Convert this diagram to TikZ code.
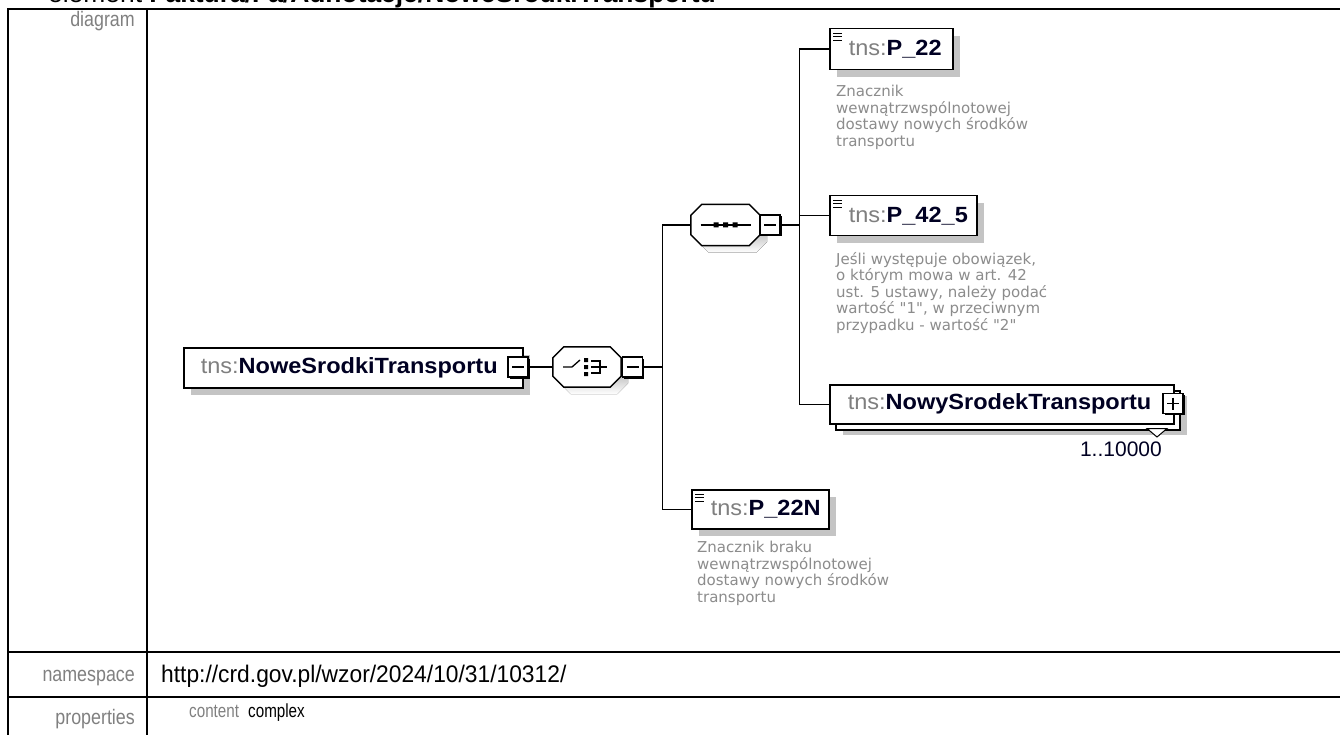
\documentclass[tikz,border=0pt]{standalone}
\usepackage{fontspec}
\setmainfont{Liberation Sans}
\newfontfamily\tabfont[FakeStretch=0.85]{Liberation Sans}
\newfontfamily\propfont[FakeStretch=0.8]{Liberation Sans}
\newfontfamily\urlfont[FakeStretch=0.95]{Liberation Sans}
\newfontfamily\namefont[FakeStretch=1.07]{Liberation Sans}
\newfontfamily\descfont{DejaVu Sans}
\usetikzlibrary{shadows}
\definecolor{shade}{HTML}{C4C4C4}
\definecolor{tnsgray}{HTML}{7F7F7F}
\definecolor{namecol}{HTML}{000022}
\definecolor{desccol}{HTML}{8C8C8C}
\definecolor{labgray}{HTML}{808080}
\tikzset{
  elem/.style={draw=black, line width=1.5pt, fill=white, anchor=north west,
    inner ysep=0pt, align=left, text=namecol, font=\namefont\fontsize{22}{26}\selectfont,
    drop shadow={shadow xshift=7pt, shadow yshift=-7pt, fill=shade, opacity=1}},
  multielem/.style={draw=black, line width=1.5pt, fill=white, anchor=north west,
    inner ysep=0pt, align=left, text=namecol, font=\namefont\fontsize{22}{26}\selectfont,
    drop shadow={shadow xshift=13pt, shadow yshift=-11pt, fill=shade, opacity=1},
    copy shadow={shadow xshift=6pt, shadow yshift=-6pt}},
  comp/.style={rectangle, draw=none, inner sep=0pt},
  octline/.style={draw=black, line width=1.5pt, fill=white},
  expbox/.style={draw=black, line width=1.2pt, fill=white, minimum size=20pt, inner sep=0pt,
    drop shadow={shadow xshift=1.5pt, shadow yshift=-1.5pt, fill=black, opacity=1}},
  minusbox/.style={expbox, path picture={\draw[line width=1.2pt]
    ([xshift=4pt]path picture bounding box.west) -- ([xshift=-4pt]path picture bounding box.east);}},
  plusbox/.style={expbox, path picture={\draw[line width=1.2pt]
    ([xshift=4pt]path picture bounding box.west) -- ([xshift=-4pt]path picture bounding box.east)
    ([yshift=-4pt]path picture bounding box.north) -- ([yshift=4pt]path picture bounding box.south);}},
  conn/.style={draw=black, line width=1.5pt},
  desc/.style={anchor=north west, inner sep=0pt, align=left, text=desccol,
    font=\descfont\fontsize{15}{16.5}\selectfont},
  tablab/.style={inner sep=0pt, text=labgray, font=\tabfont\fontsize{21}{25}\selectfont},
  tabval/.style={inner sep=0pt, text=black, font=\urlfont\fontsize{24}{28}\selectfont},
  proplab/.style={inner sep=0pt, text=labgray, font=\propfont\fontsize{19}{22}\selectfont},
  propval/.style={inner sep=0pt, text=black, font=\propfont\fontsize{19}{22}\selectfont},
  tabline/.style={line width=2pt, draw=black},
  icon/.style={line width=0.9pt, draw=black}
}
\newcommand{\tns}{\textcolor{tnsgray}{tns:}}
\newcommand{\dstrut}{\rule{0pt}{11pt}}
% octagon around an (invisible) node: #1 name, #2 chamfer
\newcommand{\octo}[2]{%
  \fill[shade] ([shift={(7+#2,7)}]#1.north west) -- ([shift={(7-#2,7)}]#1.north east)
    -- ([shift={(7,7+#2)}]#1.north east) -- ([shift={(7,7-#2)}]#1.south east)
    -- ([shift={(7-#2,7)}]#1.south east) -- ([shift={(7+#2,7)}]#1.south west)
    -- ([shift={(7,7-#2)}]#1.south west) -- ([shift={(7,7+#2)}]#1.north west) -- cycle;
  \path[octline] ([shift={(#2,0)}]#1.north west) -- ([shift={(-#2,0)}]#1.north east)
    -- ([shift={(0,#2)}]#1.north east) -- ([shift={(0,-#2)}]#1.south east)
    -- ([shift={(-#2,0)}]#1.south east) -- ([shift={(#2,0)}]#1.south west)
    -- ([shift={(0,-#2)}]#1.south west) -- ([shift={(0,#2)}]#1.north west) -- cycle;}
\begin{document}
\begin{tikzpicture}[x=1pt,y=-1pt]
\useasboundingbox (0,0) rectangle (1340,735);
\fill[white] (0,0) rectangle (1340,735);
% title (clipped at top)
\node[anchor=base west, inner sep=0pt, font=\fontsize{26.4}{30}\selectfont] (title) at (48,3)
  {element \textbf{Faktura/Fa/Adnotacje/NoweSrodkiTransportu}};
% table frame
\draw[tabline] (8,740) -- (8,9) -- (1345,9);
\draw[tabline] (147,9) -- (147,740);
\draw[tabline] (8,652) -- (1345,652);
\draw[tabline] (8,697) -- (1345,697);
% table labels
\node[tablab, anchor=base east] (ldiag) at (135,27) {diagram};
\node[tablab, anchor=base east] (lns) at (135,681) {namespace};
\node[tablab, anchor=base east] (lprop) at (135,724) {properties};
\node[tabval, anchor=base west] (vns) at (161,682) {http://crd.gov.pl/wzor/2024/10/31/10312/};
\node[proplab, anchor=base west] (lcont) at (189,717) {content};
\node[propval, anchor=base west] (vcont) at (248,717) {complex};
% root element
\node[elem, minimum height=40pt, inner xsep=17pt, text width=305pt] (root) at (183,347)
  {\tns\textbf{NoweSrodkiTransportu}};
\node[minusbox] (rootm) at (518,367) {};
% choice
\node[comp, minimum width=68pt, minimum height=40pt] (choice) at (587,367) {};
\octo{choice}{11}
\begin{scope}[shift={(choice.center)}]
  \draw[line width=1.3pt] (-24,0) -- (-15,0) -- (-7,-7);
  \fill (-3,-9) rectangle (1,-5) (-3,-2) rectangle (1,2) (-3,5) rectangle (1,9);
  \draw[line width=1.3pt] (4,-6) -- (13,-6) -- (13,6) -- (4,6) (4,0) -- (20,0);
\end{scope}
\node[minusbox] (choicem) at (632.5,367) {};
\draw[conn] (rootm.east) -- (choice.west);
\draw[conn] (choicem.east) -- ++(19.5,0) coordinate (b1);
% sequence
\node[comp, minimum width=69pt, minimum height=41pt] (seq) at (725.5,225) {};
\octo{seq}{11}
\begin{scope}[shift={(seq.center)}]
  \draw[line width=1.3pt] (-25,0) -- (25,0);
  \fill (-12,-2.5) rectangle (-7,2.5) (-2.5,-2.5) rectangle (2.5,2.5) (7,-2.5) rectangle (12,2.5);
\end{scope}
\node[minusbox] (seqm) at (770,225) {};
\draw[conn] (seqm.east) -- ++(19,0) coordinate (b2);
% children of sequence
\node[elem, minimum height=41pt, inner xsep=19pt, text width=85pt] (p22) at (829,28)
  {\tns\textbf{P\_22}};
\node[elem, minimum height=40pt, inner xsep=19pt, text width=109pt] (p425) at (829,195)
  {\tns\textbf{P\_42\_5}};
\node[multielem, minimum height=39pt, inner xsep=18pt, text width=308pt] (nowy) at (829,384)
  {\tns\textbf{NowySrodekTransportu}};
\node[plusbox] (nowyp) at (1173,403.5) {};
\draw[line width=1pt, fill=white] (1147,428.5) -- (1167,428.5) -- (1157,437) -- cycle;
\node[anchor=base east, inner sep=0pt, text=namecol, font=\fontsize{21}{25}\selectfont] (occ) at (1162,456) {1..10000};
% P_22N
\node[elem, minimum height=39pt, inner xsep=19pt, text width=99pt] (p22n) at (691,489)
  {\tns\textbf{P\_22N}};
% icons
\foreach \n in {p22,p425,p22n}{
  \foreach \k in {5,8.5,12}{
    \draw[icon] ([shift={(4,\k)}]\n.north west) -- ++(9,0);
  }
}
% connectors
\draw[conn] (seq.west) -| (b1) |- (p22n.west);
\draw[conn] (p22.west) -| (b2) |- (nowy.west);
\draw[conn] (p425.west) -- (p425.west -| b2);
% descriptions
\node[desc] (d22) at (836,85) {\dstrut Znacznik\\wewnątrzwspólnotowej\\dostawy nowych środków\\transportu};
\node[desc] (d425) at (836,252) {\dstrut Jeśli występuje obowiązek,\\o którym mowa w art. 42\\ust. 5 ustawy, należy podać\\wartość "1", w przeciwnym\\przypadku - wartość "2"};
\node[desc] (d22n) at (697,541) {\dstrut Znacznik braku\\wewnątrzwspólnotowej\\dostawy nowych środków\\transportu};
\end{tikzpicture}
\end{document}
